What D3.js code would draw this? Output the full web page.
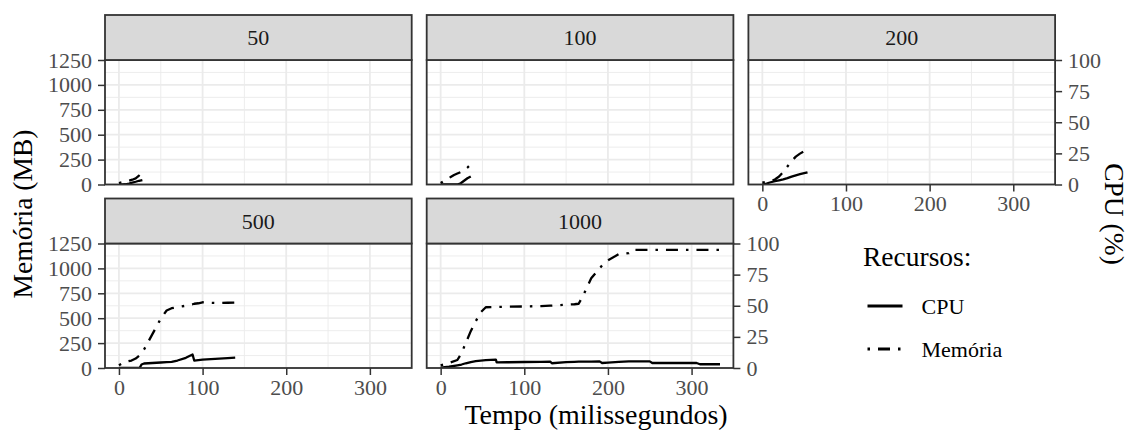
<!DOCTYPE html>
<html>
<head>
<meta charset="utf-8">
<script src="https://cdn.jsdelivr.net/npm/d3@7.9.0/dist/d3.min.js"></script>
<style>
  html, body { margin: 0; padding: 0; background: #fff; }
  svg { display: block; font-family: "Liberation Serif", "Times New Roman", serif; }
</style>
</head>
<body>
<div id="chart"></div>
<script>
// --- Data (tempo em ms, memória em MB, CPU em %) ---
const facets = ['50', '100', '200', '500', '1000'];

const time50 = [0, 4, 8, 12, 16, 20, 24, 28];
const mem50 = [15, 22, 30, 38, 48, 62, 90, 122];
const cpu50 = [0, 0, 0.2, 0.8, 1.5, 2.2, 3.0, 3.6];

const time100 = [0, 4, 8, 12, 16, 20, 24, 28, 32, 36];
const mem100 = [15, 35, 55, 75, 95, 110, 125, 145, 170, 200];
const cpu100 = [0, 0, 0, 0, 0, 0, 1, 3, 5, 6.5];

const time200 = [0, 5, 10, 15, 20, 25, 30, 35, 40, 45, 50, 54];
const mem200 = [20, 28, 36, 50, 80, 125, 180, 235, 280, 310, 335, 360];
const cpu200 = [0, 0.8, 1.8, 2.7, 3.4, 4.1, 5.1, 6.3, 7.4, 8.3, 9.1, 9.8];

const time500 = [0, 7, 15, 20, 25, 27, 30, 40, 50, 57, 63, 70, 80, 88, 90, 95, 100, 110, 120, 130, 139];
const mem500 = [27, 60, 75, 95, 130, 150, 185, 340, 495, 577, 600, 612, 625, 640, 645, 650, 660, 655, 652, 655, 657];
const cpu500 = [0, 0, 0, 0, 0.3, 2.8, 3.6, 4.0, 4.4, 4.7, 5.0, 6.0, 8.2, 10.8, 6.0, 6.4, 6.8, 7.2, 7.6, 8.0, 8.4];

const time1000 = [0, 10, 20, 25, 30, 36, 42, 48, 54, 60, 66, 67, 80, 100, 120, 131, 133, 150, 160, 165,
  170, 180, 190, 193, 200, 213, 225, 229, 250, 253, 280, 306, 310, 334];
const mem1000 = [27, 50, 80, 150, 250, 370, 470, 560, 610, 612, 613, 613, 615, 618, 622, 627, 627, 635, 640, 645,
  720, 900, 1000, 1030, 1080, 1143, 1153, 1187, 1187, 1187, 1187, 1187, 1187, 1187];
const cpu1000 = [0.2, 1.0, 2.2, 2.8, 3.8, 4.8, 5.5, 6.0, 6.3, 6.6, 6.8, 4.5, 4.6, 4.8, 5.0, 5.1, 3.8, 4.7, 5.0, 5.1,
  5.2, 5.2, 5.3, 4.0, 4.4, 5.0, 5.3, 5.3, 5.3, 4.0, 4.0, 4.0, 3.0, 3.0];

const xBreaks = [0, 100, 200, 300];
const xMinor = [50, 150, 250];
const memBreaks = [0, 250, 500, 750, 1000, 1250];
const memMinor = [125, 375, 625, 875, 1125];
const cpuBreaks = [0, 25, 50, 75, 100];

const series = [
  { time: time50, mem: mem50, cpu: cpu50 },
  { time: time100, mem: mem100, cpu: cpu100 },
  { time: time200, mem: mem200, cpu: cpu200 },
  { time: time500, mem: mem500, cpu: cpu500 },
  { time: time1000, mem: mem1000, cpu: cpu1000 },
];

// --- Layout ---
const width = 1129;
const height = 434;
const panelW = 306.7;
const gapX = 15;
const stripH = 45;
const plotH = 124.5;
const rowTops = [15, 198.5];
const left0 = 105;

const dotdash = '2.5,8,12,8';
const lineW = 2.3;

const svg = d3.select('#chart')
  .append('svg')
  .attr('width', width)
  .attr('height', height)
  .attr('viewBox', `0 0 ${width} ${height}`);

// shared scales (every panel has the same size)
const x = d3.scaleLinear().domain([-16.67, 350]).range([0, panelW]);
const yMem = d3.scaleLinear().domain([0, 1250]).range([plotH, 0]);
const yCpu = d3.scaleLinear().domain([0, 100]).range([plotH, 0]);

function styleAxis(g) {
  g.attr('font-family', null).attr('font-size', null);
  g.select('.domain').remove();
  g.selectAll('.tick line').attr('stroke', '#333').attr('stroke-width', 1.5);
  g.selectAll('.tick text')
    .attr('fill', '#4D4D4D')
    .style('font-size', '22px');
}

function drawPanel(i) {
  const col = i % 3;
  const row = Math.floor(i / 3);
  const px = left0 + col * (panelW + gapX);
  const top = rowTops[row];
  const py = top + stripH;
  const d = series[i];

  const g = svg.append('g').attr('transform', `translate(${px},${py})`);

  // panel background + grid
  g.append('rect').attr('width', panelW).attr('height', plotH).attr('fill', '#fff');

  g.selectAll('.minor-y').data(memMinor).join('line')
    .attr('x1', 0).attr('x2', panelW)
    .attr('y1', (v) => yMem(v)).attr('y2', (v) => yMem(v))
    .attr('stroke', '#EBEBEB').attr('stroke-width', 0.9);
  g.selectAll('.minor-x').data(xMinor).join('line')
    .attr('y1', 0).attr('y2', plotH)
    .attr('x1', (v) => x(v)).attr('x2', (v) => x(v))
    .attr('stroke', '#EBEBEB').attr('stroke-width', 0.9);
  g.selectAll('.major-y').data(memBreaks).join('line')
    .attr('x1', 0).attr('x2', panelW)
    .attr('y1', (v) => yMem(v)).attr('y2', (v) => yMem(v))
    .attr('stroke', '#EBEBEB').attr('stroke-width', 1.8);
  g.selectAll('.major-x').data(xBreaks).join('line')
    .attr('y1', 0).attr('y2', plotH)
    .attr('x1', (v) => x(v)).attr('x2', (v) => x(v))
    .attr('stroke', '#EBEBEB').attr('stroke-width', 1.8);

  // clip the lines to the panel
  const clipId = `clip-${i}`;
  g.append('clipPath').attr('id', clipId)
    .append('rect').attr('width', panelW).attr('height', plotH);

  const idx = d3.range(d.time.length);
  const memLine = d3.line().x((k) => x(d.time[k])).y((k) => yMem(d.mem[k]));
  const cpuLine = d3.line().x((k) => x(d.time[k])).y((k) => yCpu(d.cpu[k]));

  const lines = g.append('g').attr('clip-path', `url(#${clipId})`);
  lines.append('path').attr('d', cpuLine(idx))
    .attr('fill', 'none').attr('stroke', '#000').attr('stroke-width', lineW)
    .attr('stroke-linejoin', 'round');
  lines.append('path').attr('d', memLine(idx))
    .attr('fill', 'none').attr('stroke', '#000').attr('stroke-width', lineW)
    .attr('stroke-linejoin', 'round').attr('stroke-dasharray', dotdash);

  // panel border
  g.append('rect').attr('width', panelW).attr('height', plotH)
    .attr('fill', 'none').attr('stroke', '#333').attr('stroke-width', 1.8);

  // strip
  const strip = svg.append('g').attr('transform', `translate(${px},${top})`);
  strip.append('rect').attr('width', panelW).attr('height', stripH)
    .attr('fill', '#D9D9D9').attr('stroke', '#333').attr('stroke-width', 1.8);
  strip.append('text')
    .attr('x', panelW / 2).attr('y', stripH / 2)
    .attr('dy', '0.35em')
    .attr('text-anchor', 'middle')
    .attr('fill', '#1A1A1A')
    .style('font-size', '22px')
    .text(facets[i]);

  // axes
  if (col === 0) {
    g.append('g')
      .call(d3.axisLeft(yMem).tickValues(memBreaks).tickFormat(d3.format('d')).tickSize(7).tickPadding(6))
      .call(styleAxis);
  }
  if (i === 2 || i === 4) {
    g.append('g').attr('transform', `translate(${panelW},0)`)
      .call(d3.axisRight(yCpu).tickValues(cpuBreaks).tickFormat(d3.format('d')).tickSize(7).tickPadding(6))
      .call(styleAxis);
  }
  if (i >= 2) {
    g.append('g').attr('transform', `translate(0,${plotH})`)
      .call(d3.axisBottom(x).tickValues(xBreaks).tickFormat(d3.format('d')).tickSize(7).tickPadding(4))
      .call(styleAxis);
  }
}

facets.forEach((f, i) => drawPanel(i));

// --- Axis titles ---
svg.append('text')
  .attr('transform', 'translate(32,214) rotate(-90)')
  .attr('text-anchor', 'middle')
  .style('font-size', '27.5px')
  .text('Memória (MB)');

svg.append('text')
  .attr('transform', 'translate(1105,214) rotate(90)')
  .attr('text-anchor', 'middle')
  .style('font-size', '27.5px')
  .text('CPU (%)');

svg.append('text')
  .attr('x', 596).attr('y', 424)
  .attr('text-anchor', 'middle')
  .style('font-size', '28px')
  .text('Tempo (milissegundos)');

// --- Legend ---
const legend = svg.append('g').attr('transform', 'translate(863,0)');
legend.append('text').attr('x', 0).attr('y', 266)
  .style('font-size', '27.5px').text('Recursos:');

const keys = [
  { label: 'CPU', dash: null, y: 306 },
  { label: 'Memória', dash: dotdash, y: 349 },
];
keys.forEach((k) => {
  legend.append('line')
    .attr('x1', 4.5).attr('x2', 39.5).attr('y1', k.y).attr('y2', k.y)
    .attr('stroke', '#000').attr('stroke-width', 2.8)
    .attr('stroke-dasharray', k.dash);
  legend.append('text').attr('x', 58.5).attr('y', k.y).attr('dy', '0.35em')
    .style('font-size', '22px').text(k.label);
});
</script>
</body>
</html>
